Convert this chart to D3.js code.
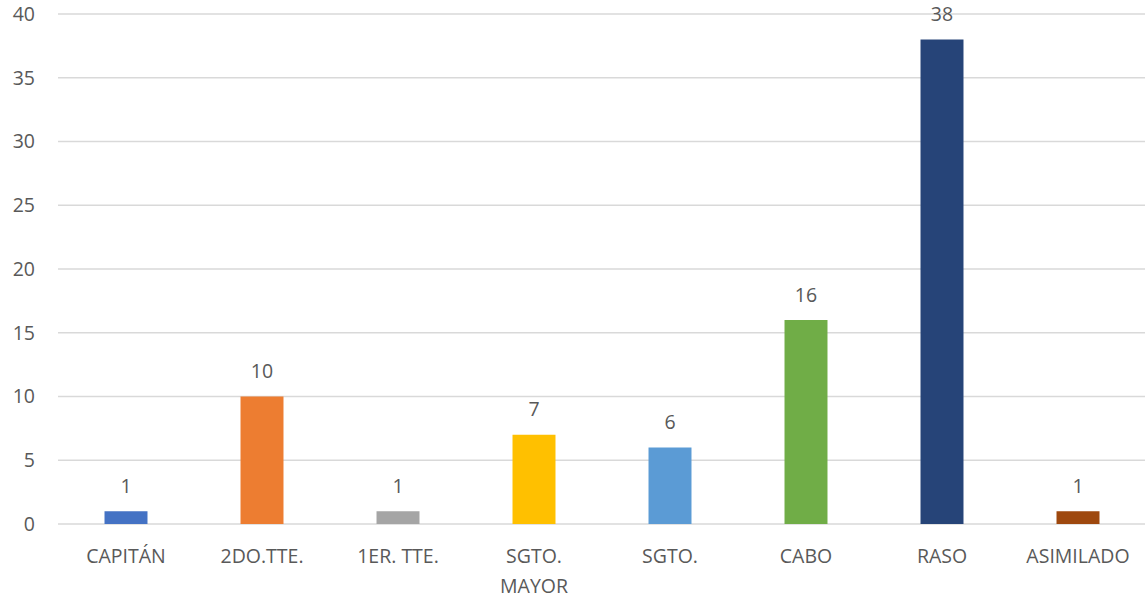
<!DOCTYPE html>
<html>
<head>
<meta charset="utf-8">
<script src="https://cdnjs.cloudflare.com/ajax/libs/d3/7.8.5/d3.min.js"></script>
<style>
  body { margin: 0; background: #fff; }
  text { font-family: "Open Sans", "Liberation Sans", sans-serif; fill: #595959; }
</style>
</head>
<body>
<svg id="chart"></svg>
<script>
var categories = ["CAPITÁN", "2DO.TTE.", "1ER. TTE.", "SGTO. MAYOR", "SGTO.", "CABO", "RASO", "ASIMILADO"]
var values = [1, 10, 1, 7, 6, 16, 38, 1]
var colors = ["#4472C4", "#ED7D31", "#A5A5A5", "#FFC000", "#5B9BD5", "#70AD47", "#264478", "#9E480E"]
var yTicks = [0, 5, 10, 15, 20, 25, 30, 35, 40]

var width = 1145
var height = 600

var svg = d3.select("#chart").attr("width", width).attr("height", height)

var xScale = d3.scaleBand()
    .domain(categories)
    .range([58, 1146])
    .paddingInner(0.684)
    .paddingOuter(0.342)

var yScale = d3.scaleLinear()
    .domain([0, 40])
    .range([524, 14])

// gridlines
svg.append("g").selectAll("line")
    .data(yTicks)
    .join("line")
    .attr("x1", 58)
    .attr("x2", 1145)
    .attr("y1", d => yScale(d))
    .attr("y2", d => yScale(d))
    .attr("stroke", "#d9d9d9")
    .attr("stroke-width", 1.3)

// y axis labels
var yAxis = d3.axisLeft(yScale).tickValues(yTicks).tickSize(0).tickPadding(0)
var yG = svg.append("g").attr("transform", "translate(35,0)").call(yAxis)
yG.select(".domain").remove()
yG.selectAll("text").style("font-size", "19.5px").attr("fill", "#595959")
    .style("font-family", "'Open Sans', sans-serif")

// bars
svg.append("g").selectAll("rect")
    .data(values)
    .join("rect")
    .attr("x", (d, i) => xScale(categories[i]))
    .attr("width", xScale.bandwidth())
    .attr("y", d => yScale(d))
    .attr("height", d => yScale(0) - yScale(d))
    .attr("fill", (d, i) => colors[i])

// value labels
svg.append("g").selectAll("text")
    .data(values)
    .join("text")
    .attr("x", (d, i) => xScale(categories[i]) + xScale.bandwidth() / 2)
    .attr("y", d => yScale(d) - 18.5)
    .attr("text-anchor", "middle")
    .style("font-size", "19.5px")
    .text(d => d)

// x axis labels
var xAxis = d3.axisBottom(xScale).tickSize(0).tickPadding(0)
var xG = svg.append("g").attr("transform", "translate(0,524)").call(xAxis)
xG.select(".domain").remove()
xG.selectAll("text").remove()
xG.selectAll(".tick").each(function (d) {
    var t = d3.select(this).append("text")
        .attr("text-anchor", "middle")
        .attr("fill", "#595959")
        .style("font-size", "19.5px")
    var words = d === "SGTO. MAYOR" ? ["SGTO.", "MAYOR"] : [d]
    words.forEach(function (w, j) {
        t.append("tspan").attr("x", 0).attr("y", 39 + j * 30).text(w)
    })
})
</script>
</body>
</html>
